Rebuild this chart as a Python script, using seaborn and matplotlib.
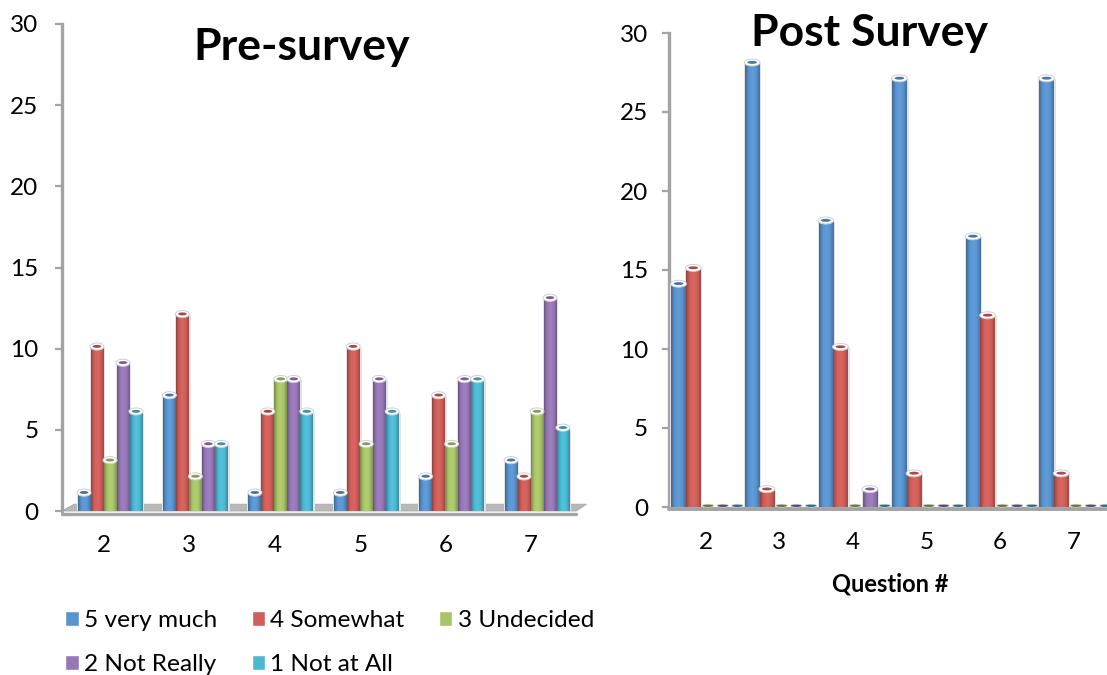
import numpy as np
import pandas as pd
import matplotlib
matplotlib.use("Agg")
import matplotlib.pyplot as plt
import seaborn as sns
from matplotlib.colors import LinearSegmentedColormap, to_rgb
from matplotlib.patches import Ellipse, Polygon

questions = ["2", "3", "4", "5", "6", "7"]
answers = ["5 very much", "4 Somewhat", "3 Undecided", "2 Not Really", "1 Not at All"]
colors = ["#5a94cf", "#cf5f5a", "#a8c468", "#9678b6", "#4db8d2"]

pre_very_much = [1, 7, 1, 1, 2, 3]
pre_somewhat = [10, 12, 6, 10, 7, 2]
pre_undecided = [3, 2, 8, 4, 4, 6]
pre_not_really = [9, 4, 8, 8, 8, 13]
pre_not_at_all = [6, 4, 6, 6, 8, 5]

post_very_much = [14, 28, 18, 27, 17, 27]
post_somewhat = [15, 1, 10, 2, 12, 2]
post_undecided = [0, 0, 0, 0, 0, 0]
post_not_really = [0, 0, 1, 0, 0, 0]
post_not_at_all = [0, 0, 0, 0, 0, 0]

W, H = 1107, 675
AXIS_GRAY = "#a3a3a3"


def make_long(series):
    df = pd.DataFrame(dict(zip(answers, series)))
    df["question"] = questions
    return df.melt(id_vars="question", var_name="answer", value_name="count")


def px_axes(fig, left, right, top, bottom):
    return fig.add_axes([left / W, 1 - bottom / H, (right - left) / W, (bottom - top) / H])


def shade(col):
    # dark edge - light middle - dark edge, like the old office cylinders
    c = np.array(to_rgb(col))
    light = np.clip(c * 1.06, 0, 1)
    return LinearSegmentedColormap.from_list("b", [c * 0.72, c, light, c, c * 0.76])


def dress_bars(ax, cap_h):
    xlim, ylim = ax.get_xlim(), ax.get_ylim()
    grad = np.linspace(0, 1, 32).reshape(1, -1)
    for col, container in zip(colors, ax.containers):
        for bar in container:
            x, w, h = bar.get_x(), bar.get_width(), bar.get_height()
            if h == 0:
                bar.set_visible(False)
                dark = tuple(np.array(to_rgb(col)) * 0.6)
                ax.add_patch(Ellipse((x + w / 2, 0.08), w * 0.8, cap_h * 0.45, fc=dark, ec="#d8d8d8",
                                     lw=0.5, zorder=4, clip_on=False))
                continue
            bar.set_edgecolor("#e2e2e2")
            bar.set_linewidth(2.2)
            bar.set_zorder(3)
            ax.imshow(grad, extent=(x, x + w, 0, h + cap_h * 0.2), aspect="auto", cmap=shade(col), zorder=3.2)
            ax.add_patch(Ellipse((x + w / 2, h + cap_h * 0.3), w * 1.1, cap_h, fc="white", ec="#cfcfcf", lw=0.7,
                                 zorder=4, clip_on=False))
            dark = tuple(np.array(to_rgb(col)) * 0.8)
            ax.add_patch(Ellipse((x + w / 2, h + cap_h * 0.32), w * 0.68, cap_h * 0.42, fc=dark, ec="none",
                                 zorder=5, clip_on=False))
    ax.set_xlim(xlim)
    ax.set_ylim(ylim)


def style_axis(ax, tick_shift, y_pad, x_pad):
    sns.despine(ax=ax, bottom=True)
    ax.spines["left"].set_color(AXIS_GRAY)
    ax.spines["left"].set_linewidth(2.4)
    ax.set_ylim(0, 30)
    ax.set_yticks(range(0, 31, 5))
    ax.set_xticks(np.arange(len(questions)) + tick_shift)
    ax.set_xticklabels(questions)
    ax.tick_params(axis="y", left=True, length=5, width=1.6, color=AXIS_GRAY, labelsize=17.5, pad=y_pad)
    ax.tick_params(axis="x", length=0, labelsize=17.5, pad=x_pad)
    ax.set_xlabel("")
    ax.set_ylabel("")
    ax.patch.set_alpha(0)


sns.set_theme(style="white")
plt.rcParams["font.family"] = ["Lato", "DejaVu Sans"]
plt.rcParams["text.color"] = "black"
plt.rcParams["xtick.color"] = "black"
plt.rcParams["ytick.color"] = "black"

fig = plt.figure(figsize=(W / 100, H / 100), dpi=100)

# Pre-survey
ax1 = px_axes(fig, 62, 578, 24, 511)
pre = make_long([pre_very_much, pre_somewhat, pre_undecided, pre_not_really, pre_not_at_all])
sns.barplot(data=pre, x="question", y="count", hue="answer", palette=colors, width=0.76, gap=0.02,
            saturation=1, ax=ax1)
handles, labels = ax1.get_legend_handles_labels()
ax1.get_legend().remove()
ax1.set_xlim(-48 / 85.4, 5 + 41 / 85.4)
style_axis(ax1, -0.07, 12, 17)
dress_bars(ax1, 0.44)
# the grey floor behind the bars
floor = ax1.get_xaxis_transform()
ax1.add_patch(Polygon([(-0.562, 0), (-0.42, 0.014), (5.58, 0.014), (5.46, 0)], transform=floor,
                      fc="#b8b8b8", ec="#a8a8a8", lw=0.6, zorder=1, clip_on=False))
ax1.plot([-0.562, 5.46], [-0.006, -0.006], transform=floor, color=AXIS_GRAY, lw=2.4, zorder=1.5,
         clip_on=False)
fig.text(302 / W, 1 - 47 / H, "Pre-survey", fontsize=32, fontweight="bold", ha="center", va="center")

# Post survey
ax2 = px_axes(fig, 669, 1107, 33, 507)
post = make_long([post_very_much, post_somewhat, post_undecided, post_not_really, post_not_at_all])
sns.barplot(data=post, x="question", y="count", hue="answer", palette=colors, width=1.0, gap=0.02,
            saturation=1, legend=False, ax=ax2)
ax2.set_xlim(-39 / 73.6, 5 + 31 / 73.6)
style_axis(ax2, -0.03, 10, 18)
dress_bars(ax2, 0.44)
ax2.plot([0, 1], [-0.004, -0.004], transform=ax2.transAxes, color=AXIS_GRAY, lw=2.8, zorder=1.5,
         clip_on=False)
fig.text(870 / W, 1 - 33 / H, "Post Survey", fontsize=32, fontweight="bold", ha="center", va="center")
fig.text(890 / W, 1 - 584 / H, "Question #", fontsize=17, fontweight="bold", ha="center", va="center")

# legend fills by column so the order is shuffled to read row by row
order = [0, 3, 1, 4, 2]
fig.legend([handles[i] for i in order], [labels[i] for i in order], ncols=3, frameon=False,
           loc="upper left", bbox_to_anchor=(58 / W, 1 - 603 / H), fontsize=17.6, handlelength=0.55,
           handleheight=0.55, handletextpad=0.22, columnspacing=1.4, labelspacing=0.92,
           borderpad=0.3, borderaxespad=0)

fig.savefig("out.png", dpi=100)
